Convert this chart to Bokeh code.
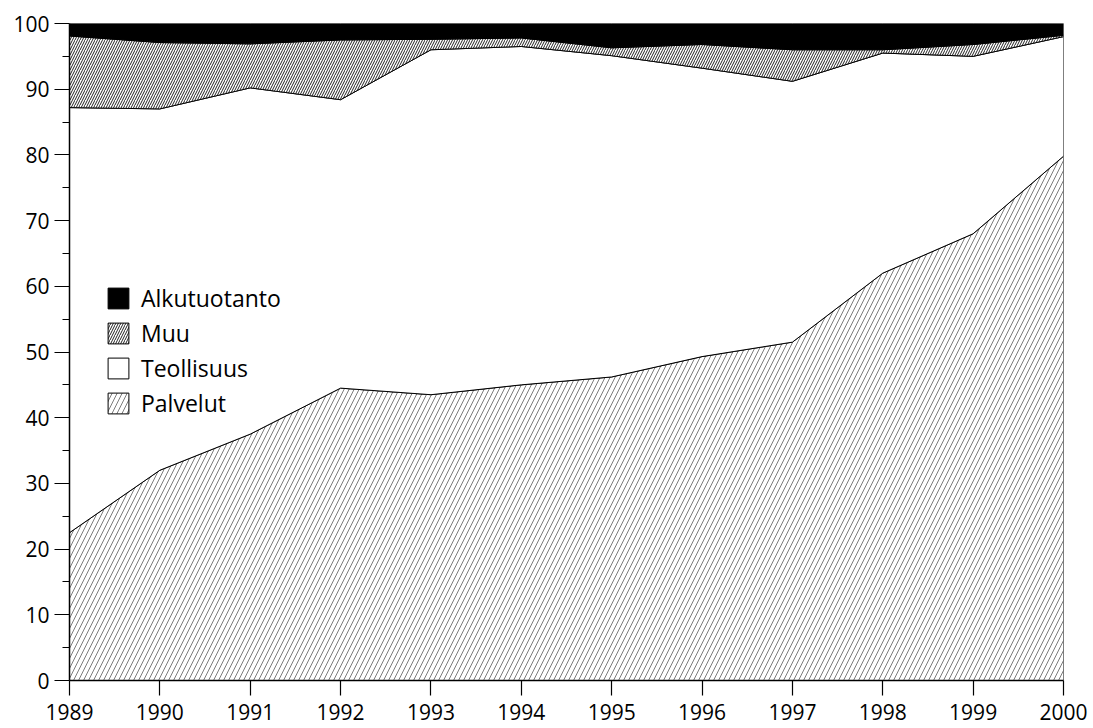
from bokeh.plotting import figure
from bokeh.models import FixedTicker, Legend
from bokeh.embed import file_html
from bokeh.resources import INLINE
import numpy as np

years = [1989, 1990, 1991, 1992, 1993, 1994, 1995, 1996, 1997, 1998, 1999, 2000]
palvelut = [22.5, 32.0, 37.5, 44.5, 43.5, 45.0, 46.2, 49.3, 51.5, 62.0, 68.0, 79.8]
teollisuus = [64.7, 55.0, 52.7, 43.9, 52.5, 51.5, 48.9, 43.9, 39.7, 33.5, 27.0, 18.2]
muu = [10.9, 10.1, 6.7, 9.1, 1.6, 1.3, 1.2, 3.6, 4.8, 0.5, 1.8, 0.2]
alkutuotanto = [1.9, 2.9, 3.1, 2.5, 2.4, 2.2, 3.7, 3.2, 4.0, 4.0, 3.2, 1.9]
y_ticks = [0, 10, 20, 30, 40, 50, 60, 70, 80, 90, 100]
y_minor = [5, 15, 25, 35, 45, 55, 65, 75, 85, 95]

FONT = "Open Sans"

W, H = 1090, 726
p = figure(width=W, height=H, output_backend="svg", toolbar_location=None,
           x_range=(1989, 2000), y_range=(0, 100),
           min_border_left=69, min_border_right=W - 1063, min_border_top=23,
           min_border_bottom=H - 680)
p.outline_line_color = None
p.xgrid.grid_line_color = None
p.ygrid.grid_line_color = None
p.background_fill_color = "white"

series = [
    ("Palvelut", palvelut, dict(fill_color="white", hatch_pattern="/", hatch_scale=10,
                                hatch_weight=0.7, hatch_color="#444444")),
    ("Teollisuus", teollisuus, dict(fill_color="white")),
    ("Muu", muu, dict(fill_color="white", hatch_pattern="/", hatch_scale=5,
                      hatch_weight=1.0, hatch_color="#222222")),
    ("Alkutuotanto", alkutuotanto, dict(fill_color="black")),
]

x = np.array(years, dtype=float)
base = np.zeros(len(years))
renderers = []
for name, vals, style in series:
    top = base + np.array(vals)
    xs = list(x) + list(x[::-1])
    ys = list(top) + list(base[::-1])
    r = p.patch(xs, ys, line_color="black", line_width=1, **style)
    renderers.append((name, r))
    base = top

legend = Legend(items=[(n, [r]) for n, r in reversed(renderers)], location=(36, 261))
legend.background_fill_alpha = 0
legend.border_line_color = None
legend.padding = 0
legend.margin = 0
legend.spacing = 3
legend.glyph_width = 26
legend.glyph_height = 26
legend.label_height = 26
legend.label_standoff = 10
legend.label_text_font = FONT
legend.label_text_font_size = "23px"
legend.label_text_color = "black"
p.add_layout(legend, "center")

p.xaxis.ticker = FixedTicker(ticks=years, minor_ticks=[])
p.yaxis.ticker = FixedTicker(ticks=y_ticks, minor_ticks=y_minor)
for ax in (p.xaxis, p.yaxis):
    ax.axis_line_color = "black"
    ax.axis_line_width = 1.5
    ax.major_tick_line_color = "black"
    ax.major_tick_line_width = 1.2
    ax.major_tick_in = 0
    ax.major_tick_out = 15
    ax.major_label_text_font = FONT
    ax.major_label_text_font_size = "21px"
    ax.major_label_text_color = "black"
p.yaxis.minor_tick_line_color = "black"
p.yaxis.minor_tick_line_width = 1.2
p.yaxis.minor_tick_in = 0
p.yaxis.minor_tick_out = 7
p.xaxis.minor_tick_line_color = None
p.yaxis.major_label_standoff = 5
p.xaxis.major_label_standoff = 8

open("out.html", "w").write(file_html(p, INLINE))
